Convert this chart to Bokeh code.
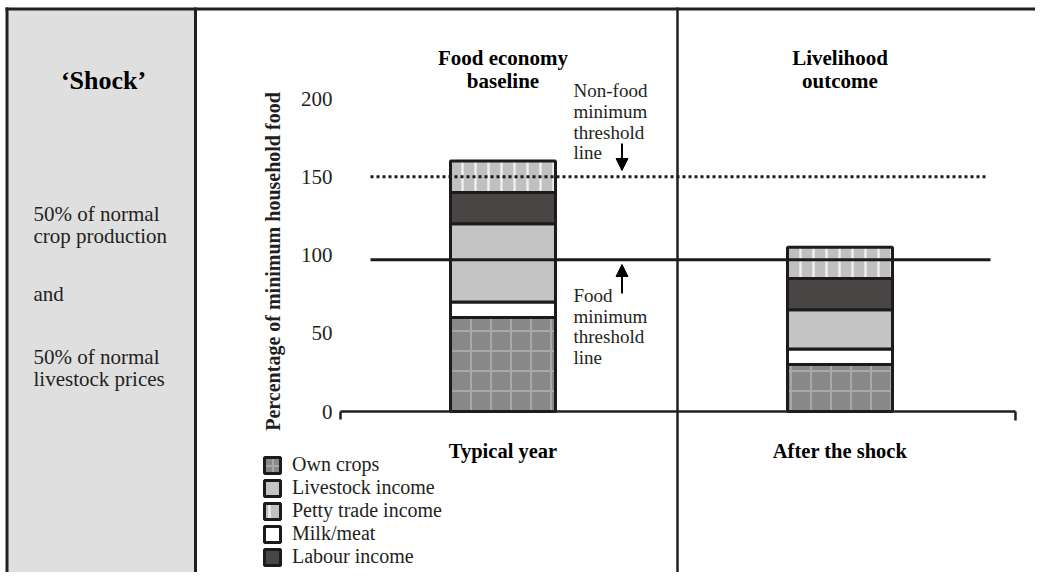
import math
from bokeh.plotting import figure
from bokeh.models import Range1d, ColumnDataSource, Legend, LegendItem, Arrow, NormalHead
from bokeh.core.properties import value
from bokeh.embed import file_html
from bokeh.resources import INLINE

# ---------------- data ----------------
categories = ["Typical year", "After the shock"]
own_crops = [60, 30]
milk_meat = [10, 10]
livestock_income = [50, 25]
labour_income = [20, 20]
petty_trade_income = [20, 20]

y_ticks = [0, 50, 100, 150, 200]
food_threshold = 97
nonfood_threshold = 150

panel_titles = [["Food economy", "baseline"], ["Livelihood", "outcome"]]
y_title = "Percentage of minimum household food"
shock_title = "\u2018Shock\u2019"
shock_lines = ["50% of normal", "crop production", "and", "50% of normal", "livestock prices"]
nonfood_note = ["Non-food", "minimum", "threshold", "line"]
food_note = ["Food", "minimum", "threshold", "line"]
legend_order = ["Own crops", "Livestock income", "Petty trade income", "Milk/meat", "Labour income"]

# ---------------- layout helpers (picture pixels -> plot coordinates) ----------------
W, H = 1035, 572
PX_PER_UNIT = 1.565
ZERO_PAGE_Y = 411


def X(px):
    return px


def Y(py):
    return (ZERO_PAGE_Y - py) / PX_PER_UNIT


INK = "#231f20"
SERIF = value("Liberation Serif")

p = figure(width=W, height=H, x_range=Range1d(0, W), y_range=Range1d(Y(H), Y(0)),
           output_backend="svg", toolbar_location=None, min_border=0,
           x_axis_location=None, y_axis_location=None)
p.grid.visible = False
p.outline_line_color = None
p.background_fill_color = "white"
p.border_fill_color = "white"

# left grey panel and frame lines
p.quad(left=[X(7)], right=[X(195)], top=[Y(9)], bottom=[Y(600)],
       fill_color="#dfdfdf", line_color=None)
p.line([X(5), X(1060)], [Y(8.5), Y(8.5)], line_color=INK, line_width=3)
p.line([X(6.5), X(6.5)], [Y(7), Y(600)], line_color=INK, line_width=3)
p.line([X(195), X(195)], [Y(7), Y(600)], line_color=INK, line_width=3)
p.line([X(677), X(677)], [Y(7), Y(600)], line_color=INK, line_width=2.5)

# ---------------- stacked bars ----------------
bar_x = [X(502.5), X(839.5)]
BAR_W = 105

series = [
    ("Own crops", own_crops, dict(fill_color="#888888", hatch_pattern="+", hatch_color="#a8a8a8",
                                  hatch_scale=20, hatch_weight=2)),
    ("Milk/meat", milk_meat, dict(fill_color="white")),
    ("Livestock income", livestock_income, dict(fill_color="#c4c4c4")),
    ("Labour income", labour_income, dict(fill_color="#4a4545")),
    ("Petty trade income", petty_trade_income, dict(fill_color="#c0c0c0", hatch_pattern="|",
                                                    hatch_color="#eeeeee", hatch_scale=13,
                                                    hatch_weight=2.5)),
]

renderers = {}
bottom = [0] * len(categories)
for name, vals, style in series:
    top = [b + v for b, v in zip(bottom, vals)]
    src = ColumnDataSource(dict(x=bar_x, bottom=bottom, top=top))
    r = p.vbar(x="x", bottom="bottom", top="top", width=BAR_W, source=src,
               line_color="#1c1a1a", line_width=3, **style)
    renderers[name] = r
    bottom = top

# threshold lines
p.line([X(370), X(990)], [food_threshold, food_threshold], line_color="#1c1a1a", line_width=3)
p.line([X(370), X(987)], [nonfood_threshold, nonfood_threshold], line_color="#1c1a1a",
       line_width=3, line_dash="3 3")

# x axis baseline with end ticks
p.line([X(340), X(1015)], [0, 0], line_color=INK, line_width=2.5)
p.segment(x0=[X(340), X(1015)], y0=[0, 0], x1=[X(340), X(1015)], y1=[Y(419), Y(420)],
          line_color=INK, line_width=2.5)

# y tick labels
p.text(x=[X(332)] * len(y_ticks), y=y_ticks, text=[str(t) for t in y_ticks],
       text_align="right", text_baseline="middle", text_font=SERIF,
       text_font_size="21px", text_color=INK)

# y-axis title
p.text(x=[X(272)], y=[Y(261)], text=[y_title], angle=math.pi / 2,
       text_align="center", text_baseline="middle", text_font=SERIF,
       text_font_size="20px", text_font_style="bold", text_color=INK)

# panel titles
for cx, lines in zip(bar_x, panel_titles):
    p.text(x=[cx, cx], y=[Y(57), Y(80)], text=lines, text_align="center",
           text_baseline="alphabetic", text_font=SERIF, text_font_size="21px",
           text_font_style="bold", text_color="black")

# category labels
p.text(x=bar_x, y=[Y(450), Y(450)], text=categories, text_align="center",
       text_baseline="alphabetic", text_font=SERIF, text_font_size="20.5px",
       text_font_style="bold", text_color="black")

# left panel texts
p.text(x=[X(103)], y=[Y(80)], text=[shock_title], text_align="center",
       text_baseline="alphabetic", text_font=SERIF, text_font_size="26px",
       text_font_style="bold", text_color="black")
p.text(x=[X(33)] * 5, y=[Y(213), Y(235), Y(293), Y(356), Y(378)], text=shock_lines,
       text_align="left", text_baseline="alphabetic", text_font=SERIF,
       text_font_size="21px", text_color=INK)

# threshold annotations
p.text(x=[X(573)] * 4, y=[Y(90), Y(111), Y(131.5), Y(152)], text=nonfood_note,
       text_align="left", text_baseline="alphabetic", text_font=SERIF,
       text_font_size="19px", text_color=INK)
p.text(x=[X(573)] * 4, y=[Y(295), Y(315.5), Y(336), Y(357)], text=food_note,
       text_align="left", text_baseline="alphabetic", text_font=SERIF,
       text_font_size="19px", text_color=INK)

p.add_layout(Arrow(end=NormalHead(size=12, fill_color="black", line_color="black", line_width=1),
                   x_start=X(621.5), y_start=Y(143), x_end=X(621.5), y_end=Y(170),
                   line_color="black", line_width=2))
p.add_layout(Arrow(end=NormalHead(size=12, fill_color="black", line_color="black", line_width=1),
                   x_start=X(621.5), y_start=Y(293), x_end=X(621.5), y_end=Y(264),
                   line_color="black", line_width=2))

# legend
legend = Legend(items=[LegendItem(label=name, renderers=[renderers[name]]) for name in legend_order],
                location=(262, 4), orientation="vertical", padding=0, margin=0, spacing=0,
                glyph_width=20, glyph_height=20, label_height=20, label_standoff=10,
                label_text_font="Liberation Serif", label_text_font_size="20px",
                label_text_color=INK, border_line_color=None, background_fill_alpha=0)
p.add_layout(legend)

open("out.html", "w").write(file_html(p, INLINE))
